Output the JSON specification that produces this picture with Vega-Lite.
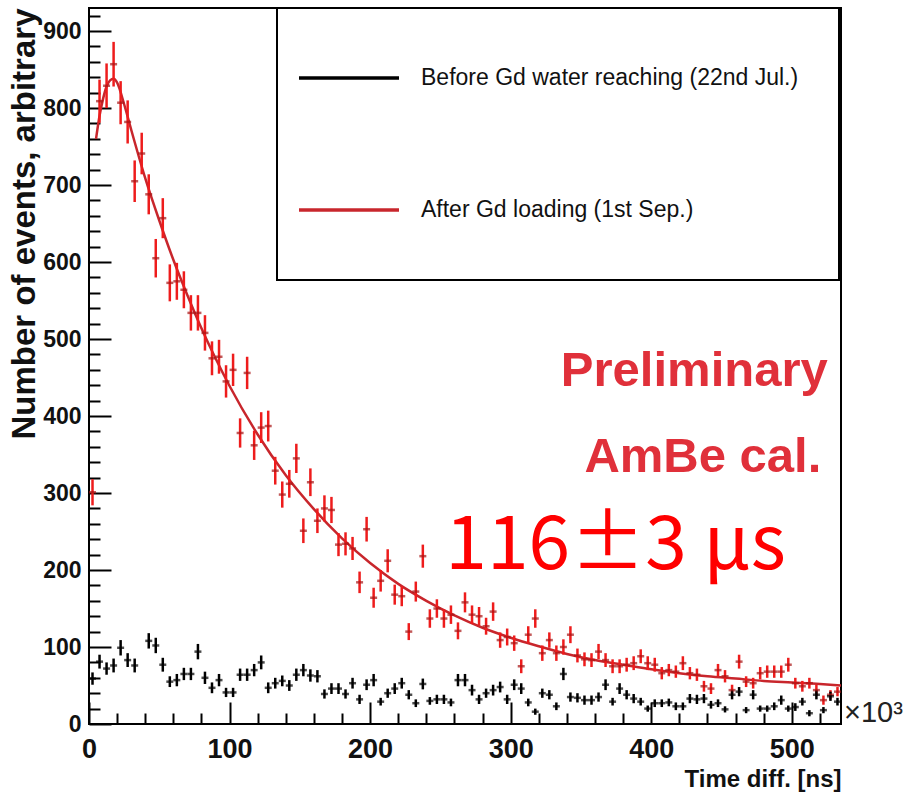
{
  "$schema": "https://vega.github.io/schema/vega-lite/v6.json",
  "width": 752,
  "height": 716,
  "autosize": "none",
  "padding": {"left": 89, "top": 8, "right": 63, "bottom": 77},
  "background": "white",
  "datasets": {
    "hist": [
      {"time": 2.5, "count": 301, "err": 17, "run": "after"},
      {"time": 7.5, "count": 809, "err": 28, "run": "after"},
      {"time": 12.5, "count": 829, "err": 29, "run": "after"},
      {"time": 17.5, "count": 857, "err": 29, "run": "after"},
      {"time": 22.5, "count": 807, "err": 28, "run": "after"},
      {"time": 27.5, "count": 782, "err": 28, "run": "after"},
      {"time": 32.5, "count": 705, "err": 27, "run": "after"},
      {"time": 37.5, "count": 741, "err": 27, "run": "after"},
      {"time": 42.5, "count": 688, "err": 26, "run": "after"},
      {"time": 47.5, "count": 605, "err": 25, "run": "after"},
      {"time": 52.5, "count": 657, "err": 26, "run": "after"},
      {"time": 57.5, "count": 573, "err": 24, "run": "after"},
      {"time": 62.5, "count": 575, "err": 24, "run": "after"},
      {"time": 67.5, "count": 564, "err": 24, "run": "after"},
      {"time": 72.5, "count": 534, "err": 23, "run": "after"},
      {"time": 77.5, "count": 534, "err": 23, "run": "after"},
      {"time": 82.5, "count": 508, "err": 23, "run": "after"},
      {"time": 87.5, "count": 475, "err": 22, "run": "after"},
      {"time": 92.5, "count": 477, "err": 22, "run": "after"},
      {"time": 97.5, "count": 445, "err": 21, "run": "after"},
      {"time": 102.5, "count": 460, "err": 21, "run": "after"},
      {"time": 107.5, "count": 378, "err": 19, "run": "after"},
      {"time": 112.5, "count": 456, "err": 21, "run": "after"},
      {"time": 117.5, "count": 362, "err": 19, "run": "after"},
      {"time": 122.5, "count": 385, "err": 20, "run": "after"},
      {"time": 127.5, "count": 387, "err": 20, "run": "after"},
      {"time": 132.5, "count": 329, "err": 18, "run": "after"},
      {"time": 137.5, "count": 298, "err": 17, "run": "after"},
      {"time": 142.5, "count": 312, "err": 18, "run": "after"},
      {"time": 147.5, "count": 345, "err": 19, "run": "after"},
      {"time": 152.5, "count": 251, "err": 16, "run": "after"},
      {"time": 157.5, "count": 314, "err": 18, "run": "after"},
      {"time": 162.5, "count": 264, "err": 16, "run": "after"},
      {"time": 167.5, "count": 280, "err": 17, "run": "after"},
      {"time": 172.5, "count": 278, "err": 17, "run": "after"},
      {"time": 177.5, "count": 233, "err": 15, "run": "after"},
      {"time": 182.5, "count": 234, "err": 15, "run": "after"},
      {"time": 187.5, "count": 228, "err": 15, "run": "after"},
      {"time": 192.5, "count": 184, "err": 14, "run": "after"},
      {"time": 197.5, "count": 253, "err": 16, "run": "after"},
      {"time": 202.5, "count": 164, "err": 13, "run": "after"},
      {"time": 207.5, "count": 186, "err": 14, "run": "after"},
      {"time": 212.5, "count": 212, "err": 15, "run": "after"},
      {"time": 217.5, "count": 168, "err": 13, "run": "after"},
      {"time": 222.5, "count": 166, "err": 13, "run": "after"},
      {"time": 227.5, "count": 120, "err": 11, "run": "after"},
      {"time": 232.5, "count": 172, "err": 13, "run": "after"},
      {"time": 237.5, "count": 218, "err": 15, "run": "after"},
      {"time": 242.5, "count": 137, "err": 12, "run": "after"},
      {"time": 247.5, "count": 150, "err": 12, "run": "after"},
      {"time": 252.5, "count": 137, "err": 12, "run": "after"},
      {"time": 257.5, "count": 142, "err": 12, "run": "after"},
      {"time": 262.5, "count": 121, "err": 11, "run": "after"},
      {"time": 267.5, "count": 158, "err": 13, "run": "after"},
      {"time": 272.5, "count": 142, "err": 12, "run": "after"},
      {"time": 277.5, "count": 140, "err": 12, "run": "after"},
      {"time": 282.5, "count": 127, "err": 11, "run": "after"},
      {"time": 287.5, "count": 146, "err": 12, "run": "after"},
      {"time": 292.5, "count": 109, "err": 10, "run": "after"},
      {"time": 297.5, "count": 113, "err": 11, "run": "after"},
      {"time": 302.5, "count": 105, "err": 10, "run": "after"},
      {"time": 307.5, "count": 75, "err": 9, "run": "after"},
      {"time": 312.5, "count": 116, "err": 11, "run": "after"},
      {"time": 317.5, "count": 137, "err": 12, "run": "after"},
      {"time": 322.5, "count": 92, "err": 10, "run": "after"},
      {"time": 327.5, "count": 109, "err": 10, "run": "after"},
      {"time": 332.5, "count": 92, "err": 10, "run": "after"},
      {"time": 337.5, "count": 100, "err": 10, "run": "after"},
      {"time": 342.5, "count": 116, "err": 11, "run": "after"},
      {"time": 347.5, "count": 89, "err": 9, "run": "after"},
      {"time": 352.5, "count": 84, "err": 9, "run": "after"},
      {"time": 357.5, "count": 83, "err": 9, "run": "after"},
      {"time": 362.5, "count": 94, "err": 10, "run": "after"},
      {"time": 367.5, "count": 83, "err": 9, "run": "after"},
      {"time": 372.5, "count": 75, "err": 9, "run": "after"},
      {"time": 377.5, "count": 75, "err": 9, "run": "after"},
      {"time": 382.5, "count": 77, "err": 9, "run": "after"},
      {"time": 387.5, "count": 79, "err": 9, "run": "after"},
      {"time": 392.5, "count": 88, "err": 9, "run": "after"},
      {"time": 397.5, "count": 79, "err": 9, "run": "after"},
      {"time": 402.5, "count": 77, "err": 9, "run": "after"},
      {"time": 407.5, "count": 66, "err": 8, "run": "after"},
      {"time": 412.5, "count": 70, "err": 8, "run": "after"},
      {"time": 417.5, "count": 68, "err": 8, "run": "after"},
      {"time": 422.5, "count": 79, "err": 9, "run": "after"},
      {"time": 427.5, "count": 66, "err": 8, "run": "after"},
      {"time": 432.5, "count": 64, "err": 8, "run": "after"},
      {"time": 437.5, "count": 49, "err": 7, "run": "after"},
      {"time": 442.5, "count": 46, "err": 7, "run": "after"},
      {"time": 447.5, "count": 70, "err": 8, "run": "after"},
      {"time": 452.5, "count": 62, "err": 8, "run": "after"},
      {"time": 457.5, "count": 44, "err": 7, "run": "after"},
      {"time": 462.5, "count": 81, "err": 9, "run": "after"},
      {"time": 467.5, "count": 55, "err": 7, "run": "after"},
      {"time": 472.5, "count": 53, "err": 7, "run": "after"},
      {"time": 477.5, "count": 66, "err": 8, "run": "after"},
      {"time": 482.5, "count": 68, "err": 8, "run": "after"},
      {"time": 487.5, "count": 68, "err": 8, "run": "after"},
      {"time": 492.5, "count": 68, "err": 8, "run": "after"},
      {"time": 497.5, "count": 77, "err": 9, "run": "after"},
      {"time": 502.5, "count": 53, "err": 7, "run": "after"},
      {"time": 507.5, "count": 49, "err": 7, "run": "after"},
      {"time": 512.5, "count": 53, "err": 7, "run": "after"},
      {"time": 517.5, "count": 44, "err": 7, "run": "after"},
      {"time": 522.5, "count": 31, "err": 6, "run": "after"},
      {"time": 527.5, "count": 38, "err": 6, "run": "after"},
      {"time": 532.5, "count": 42, "err": 6, "run": "after"},
      {"time": 2.5, "count": 59, "err": 8, "run": "before"},
      {"time": 7.5, "count": 81, "err": 9, "run": "before"},
      {"time": 12.5, "count": 72, "err": 8, "run": "before"},
      {"time": 17.5, "count": 76, "err": 9, "run": "before"},
      {"time": 22.5, "count": 99, "err": 10, "run": "before"},
      {"time": 27.5, "count": 83, "err": 9, "run": "before"},
      {"time": 32.5, "count": 76, "err": 9, "run": "before"},
      {"time": 42.5, "count": 108, "err": 10, "run": "before"},
      {"time": 47.5, "count": 102, "err": 10, "run": "before"},
      {"time": 52.5, "count": 77, "err": 9, "run": "before"},
      {"time": 57.5, "count": 55, "err": 7, "run": "before"},
      {"time": 62.5, "count": 57, "err": 8, "run": "before"},
      {"time": 67.5, "count": 65, "err": 8, "run": "before"},
      {"time": 72.5, "count": 65, "err": 8, "run": "before"},
      {"time": 77.5, "count": 94, "err": 10, "run": "before"},
      {"time": 82.5, "count": 60, "err": 8, "run": "before"},
      {"time": 87.5, "count": 47, "err": 7, "run": "before"},
      {"time": 92.5, "count": 57, "err": 8, "run": "before"},
      {"time": 97.5, "count": 41, "err": 6, "run": "before"},
      {"time": 102.5, "count": 41, "err": 6, "run": "before"},
      {"time": 107.5, "count": 64, "err": 8, "run": "before"},
      {"time": 112.5, "count": 64, "err": 8, "run": "before"},
      {"time": 117.5, "count": 70, "err": 8, "run": "before"},
      {"time": 122.5, "count": 80, "err": 9, "run": "before"},
      {"time": 127.5, "count": 47, "err": 7, "run": "before"},
      {"time": 132.5, "count": 53, "err": 7, "run": "before"},
      {"time": 137.5, "count": 56, "err": 7, "run": "before"},
      {"time": 142.5, "count": 50, "err": 7, "run": "before"},
      {"time": 147.5, "count": 64, "err": 8, "run": "before"},
      {"time": 152.5, "count": 70, "err": 8, "run": "before"},
      {"time": 157.5, "count": 63, "err": 8, "run": "before"},
      {"time": 162.5, "count": 62, "err": 8, "run": "before"},
      {"time": 167.5, "count": 39, "err": 6, "run": "before"},
      {"time": 172.5, "count": 46, "err": 7, "run": "before"},
      {"time": 177.5, "count": 46, "err": 7, "run": "before"},
      {"time": 182.5, "count": 39, "err": 6, "run": "before"},
      {"time": 187.5, "count": 53, "err": 7, "run": "before"},
      {"time": 192.5, "count": 32, "err": 6, "run": "before"},
      {"time": 197.5, "count": 51, "err": 7, "run": "before"},
      {"time": 202.5, "count": 57, "err": 8, "run": "before"},
      {"time": 207.5, "count": 29, "err": 5, "run": "before"},
      {"time": 212.5, "count": 40, "err": 6, "run": "before"},
      {"time": 217.5, "count": 46, "err": 7, "run": "before"},
      {"time": 222.5, "count": 53, "err": 7, "run": "before"},
      {"time": 227.5, "count": 38, "err": 6, "run": "before"},
      {"time": 232.5, "count": 27, "err": 5, "run": "before"},
      {"time": 237.5, "count": 52, "err": 7, "run": "before"},
      {"time": 242.5, "count": 30, "err": 5, "run": "before"},
      {"time": 247.5, "count": 32, "err": 6, "run": "before"},
      {"time": 252.5, "count": 32, "err": 6, "run": "before"},
      {"time": 257.5, "count": 28, "err": 5, "run": "before"},
      {"time": 262.5, "count": 57, "err": 8, "run": "before"},
      {"time": 267.5, "count": 57, "err": 8, "run": "before"},
      {"time": 272.5, "count": 44, "err": 7, "run": "before"},
      {"time": 277.5, "count": 32, "err": 6, "run": "before"},
      {"time": 282.5, "count": 40, "err": 6, "run": "before"},
      {"time": 287.5, "count": 44, "err": 7, "run": "before"},
      {"time": 292.5, "count": 48, "err": 7, "run": "before"},
      {"time": 297.5, "count": 32, "err": 6, "run": "before"},
      {"time": 302.5, "count": 51, "err": 7, "run": "before"},
      {"time": 307.5, "count": 46, "err": 7, "run": "before"},
      {"time": 312.5, "count": 28, "err": 5, "run": "before"},
      {"time": 317.5, "count": 16, "err": 4, "run": "before"},
      {"time": 322.5, "count": 40, "err": 6, "run": "before"},
      {"time": 327.5, "count": 38, "err": 6, "run": "before"},
      {"time": 332.5, "count": 23, "err": 5, "run": "before"},
      {"time": 337.5, "count": 65, "err": 8, "run": "before"},
      {"time": 342.5, "count": 35, "err": 6, "run": "before"},
      {"time": 347.5, "count": 34, "err": 6, "run": "before"},
      {"time": 352.5, "count": 31, "err": 6, "run": "before"},
      {"time": 357.5, "count": 31, "err": 6, "run": "before"},
      {"time": 362.5, "count": 35, "err": 6, "run": "before"},
      {"time": 367.5, "count": 51, "err": 7, "run": "before"},
      {"time": 372.5, "count": 29, "err": 5, "run": "before"},
      {"time": 377.5, "count": 46, "err": 7, "run": "before"},
      {"time": 382.5, "count": 38, "err": 6, "run": "before"},
      {"time": 387.5, "count": 33, "err": 6, "run": "before"},
      {"time": 392.5, "count": 29, "err": 5, "run": "before"},
      {"time": 397.5, "count": 20, "err": 4, "run": "before"},
      {"time": 402.5, "count": 27, "err": 5, "run": "before"},
      {"time": 407.5, "count": 27, "err": 5, "run": "before"},
      {"time": 412.5, "count": 28, "err": 5, "run": "before"},
      {"time": 417.5, "count": 23, "err": 5, "run": "before"},
      {"time": 422.5, "count": 23, "err": 5, "run": "before"},
      {"time": 427.5, "count": 33, "err": 6, "run": "before"},
      {"time": 432.5, "count": 32, "err": 6, "run": "before"},
      {"time": 437.5, "count": 33, "err": 6, "run": "before"},
      {"time": 442.5, "count": 25, "err": 5, "run": "before"},
      {"time": 447.5, "count": 27, "err": 5, "run": "before"},
      {"time": 452.5, "count": 19, "err": 4, "run": "before"},
      {"time": 457.5, "count": 38, "err": 6, "run": "before"},
      {"time": 462.5, "count": 42, "err": 6, "run": "before"},
      {"time": 467.5, "count": 18, "err": 4, "run": "before"},
      {"time": 472.5, "count": 38, "err": 6, "run": "before"},
      {"time": 477.5, "count": 20, "err": 4, "run": "before"},
      {"time": 482.5, "count": 20, "err": 4, "run": "before"},
      {"time": 487.5, "count": 23, "err": 5, "run": "before"},
      {"time": 492.5, "count": 31, "err": 6, "run": "before"},
      {"time": 497.5, "count": 20, "err": 4, "run": "before"},
      {"time": 502.5, "count": 22, "err": 5, "run": "before"},
      {"time": 507.5, "count": 29, "err": 5, "run": "before"},
      {"time": 512.5, "count": 14, "err": 4, "run": "before"},
      {"time": 517.5, "count": 38, "err": 6, "run": "before"},
      {"time": 522.5, "count": 18, "err": 4, "run": "before"},
      {"time": 527.5, "count": 36, "err": 6, "run": "before"},
      {"time": 532.5, "count": 29, "err": 5, "run": "before"}
    ],
    "fit": [
      {"time": 5, "count": 760, "run": "after"},
      {"time": 7.5, "count": 790, "run": "after"},
      {"time": 10, "count": 812, "run": "after"},
      {"time": 12.5, "count": 828, "run": "after"},
      {"time": 15, "count": 836, "run": "after"},
      {"time": 17.5, "count": 838, "run": "after"},
      {"time": 20, "count": 833, "run": "after"},
      {"time": 25, "count": 805, "run": "after"},
      {"time": 30, "count": 772, "run": "after"},
      {"time": 40, "count": 709, "run": "after"},
      {"time": 50, "count": 654, "run": "after"},
      {"time": 60, "count": 603, "run": "after"},
      {"time": 70, "count": 557, "run": "after"},
      {"time": 80, "count": 514, "run": "after"},
      {"time": 90, "count": 475, "run": "after"},
      {"time": 100, "count": 439, "run": "after"},
      {"time": 120, "count": 376, "run": "after"},
      {"time": 140, "count": 323, "run": "after"},
      {"time": 160, "count": 279, "run": "after"},
      {"time": 180, "count": 241, "run": "after"},
      {"time": 200, "count": 209, "run": "after"},
      {"time": 220, "count": 182, "run": "after"},
      {"time": 240, "count": 160, "run": "after"},
      {"time": 260, "count": 141, "run": "after"},
      {"time": 280, "count": 125, "run": "after"},
      {"time": 300, "count": 112, "run": "after"},
      {"time": 320, "count": 101, "run": "after"},
      {"time": 340, "count": 91, "run": "after"},
      {"time": 360, "count": 83, "run": "after"},
      {"time": 380, "count": 77, "run": "after"},
      {"time": 400, "count": 71, "run": "after"},
      {"time": 420, "count": 66, "run": "after"},
      {"time": 440, "count": 62, "run": "after"},
      {"time": 460, "count": 59, "run": "after"},
      {"time": 480, "count": 56, "run": "after"},
      {"time": 500, "count": 54, "run": "after"},
      {"time": 520, "count": 52, "run": "after"},
      {"time": 535, "count": 50, "run": "after"}
    ]
  },
  "resolve": {"axis": {"x": "independent", "y": "independent"}},
  "layer": [
    {
      "data": {"name": "fit"},
      "mark": {"type": "line", "strokeWidth": 2.5, "interpolate": "monotone", "clip": true},
      "encoding": {
        "x": {
          "field": "time", "type": "quantitative",
          "scale": {"domain": [0, 535], "nice": false, "zero": false},
          "axis": {
            "orient": "bottom",
            "values": [0, 20, 40, 60, 80, 100, 120, 140, 160, 180, 200, 220, 240, 260, 280, 300, 320, 340, 360, 380, 400, 420, 440, 460, 480, 500, 520],
            "tickSize": {"condition": {"test": "datum.value % 100 === 0", "value": -22}, "value": -11},
            "labelExpr": "datum.value % 100 === 0 ? datum.label : ''",
            "labelOverlap": false,
            "labelFontSize": 27,
            "labelPadding": 34,
            "labelFlush": false,
            "title": "Time diff. [ns]",
            "titleFontSize": 24,
            "titleAnchor": "end",
            "titlePadding": -6
          }
        },
        "y": {
          "field": "count", "type": "quantitative",
          "scale": {"domain": [0, 930], "nice": false, "zero": false},
          "axis": {
            "orient": "left",
            "values": [0, 20, 40, 60, 80, 100, 120, 140, 160, 180, 200, 220, 240, 260, 280, 300, 320, 340, 360, 380, 400, 420, 440, 460, 480, 500, 520, 540, 560, 580, 600, 620, 640, 660, 680, 700, 720, 740, 760, 780, 800, 820, 840, 860, 880, 900, 920],
            "tickSize": {"condition": {"test": "datum.value % 100 === 0", "value": -22}, "value": -11},
            "labelExpr": "datum.value % 100 === 0 ? datum.label : ''",
            "labelOverlap": false,
            "labelFontSize": 23,
            "labelPadding": 30,
            "labelFlush": false,
            "title": "Number of events, arbitrary",
            "titleFontSize": 33,
            "titleAnchor": "end",
            "titlePadding": 1
          }
        },
        "color": {
          "field": "run", "type": "nominal",
          "scale": {"domain": ["before", "after"], "range": ["#000000", "#c8262c"]},
          "legend": {
            "orient": "none",
            "legendX": 188,
            "legendY": 0,
            "title": "\u00a0",
            "titleOrient": "right",
            "titleFontSize": 2,
            "titlePadding": 21,
            "direction": "vertical",
            "symbolType": "stroke",
            "symbolSize": 10000,
            "symbolStrokeWidth": 3.5,
            "clipHeight": 100,
            "labelFont": "Liberation Sans",
            "labelFontSize": 23,
            "labelColor": "#111111",
            "labelOffset": 20,
            "labelLimit": 700,
            "rowPadding": 32,
            "padding": 20,
            "strokeColor": "#000000",
            "fillColor": "#ffffff",
            "labelExpr": "datum.value === 'before' ? 'Before Gd water reaching (22nd Jul.)' : 'After Gd loading (1st Sep.)'",
            "encode": {"legend": {"update": {"strokeWidth": {"value": 2}}}}
          }
        }
      }
    },
    {
      "data": {"name": "hist"},
      "mark": {"type": "errorbar", "ticks": false, "thickness": 2.5},
      "encoding": {
        "x": {"field": "time", "type": "quantitative", "axis": null},
        "y": {"field": "count", "type": "quantitative", "axis": null},
        "yError": {"field": "err"},
        "color": {"condition": {"test": "datum.run === 'after'", "value": "#ee1c1c"}, "value": "#000000"}
      }
    },
    {
      "data": {"name": "hist"},
      "mark": {"type": "tick", "orient": "horizontal", "size": 7, "thickness": 2.5},
      "encoding": {
        "x": {"field": "time", "type": "quantitative", "axis": null},
        "y": {"field": "count", "type": "quantitative", "axis": null},
        "color": {"condition": {"test": "datum.run === 'after'", "value": "#a81414"}, "value": "#000000"}
      }
    },
    {
      "data": {"values": [{}]},
      "mark": {"type": "text", "text": "Preliminary", "align": "right", "baseline": "alphabetic", "font": "Liberation Sans", "fontWeight": "bold", "fontSize": 49, "color": "#e0303a"},
      "encoding": {"x": {"datum": 525.6, "axis": null}, "y": {"datum": 439.5, "axis": null}}
    },
    {
      "data": {"values": [{}]},
      "mark": {"type": "text", "text": "AmBe cal.", "align": "right", "baseline": "alphabetic", "font": "Liberation Sans", "fontWeight": "bold", "fontSize": 49, "color": "#e0303a"},
      "encoding": {"x": {"datum": 521, "axis": null}, "y": {"datum": 327.7, "axis": null}}
    },
    {
      "data": {"values": [{}]},
      "mark": {"type": "text", "text": "116±3 μs", "align": "left", "baseline": "alphabetic", "font": "Noto Sans CJK JP", "fontWeight": "normal", "fontSize": 75, "color": "#ff0000"},
      "encoding": {"x": {"datum": 253.5, "axis": null}, "y": {"datum": 201.5, "axis": null}}
    },
    {
      "data": {"values": [{}]},
      "mark": {"type": "text", "text": "×10³", "align": "left", "baseline": "alphabetic", "font": "Liberation Sans", "fontSize": 29, "color": "#222222", "dx": 3, "dy": -2, "clip": false},
      "encoding": {"x": {"datum": 535, "axis": null}, "y": {"datum": 0, "axis": null}}
    }
  ],
  "config": {
    "view": {"stroke": "#000000", "strokeWidth": 2},
    "axis": {
      "grid": false,
      "domain": false,
      "labelOverlap": false,
      "tickColor": "#000000",
      "tickWidth": 2,
      "labelFont": "Liberation Sans",
      "labelFontWeight": "bold",
      "labelColor": "#111111",
      "titleFont": "Liberation Sans",
      "titleFontWeight": "bold",
      "titleColor": "#111111"
    }
  }
}
